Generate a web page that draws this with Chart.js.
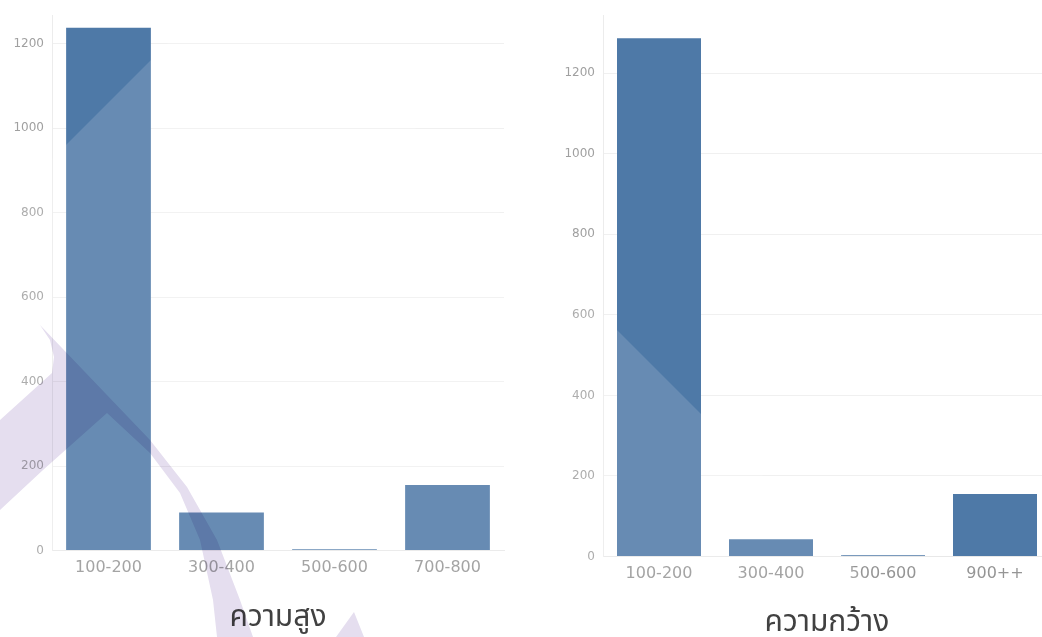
<!DOCTYPE html>
<html lang="th">
<head>
<meta charset="utf-8">
<title>ความสูง / ความกว้าง</title>
<script src="https://cdn.jsdelivr.net/npm/chart.js@4.4.1/dist/chart.umd.min.js"></script>
<style>
  html, body { margin: 0; padding: 0; background: #fff; overflow: hidden; }
  #wrap { position: relative; width: 1042px; height: 637px; overflow: hidden; }
  .panel { position: absolute; top: 0; }
  #heightPanel { left: 0; }
  #widthPanel { left: 520px; }
  #mark { position: absolute; left: 0; top: 0; pointer-events: none; }
</style>
</head>
<body>
<div id="wrap">
  <div class="panel" id="heightPanel"><canvas id="heightChart" width="520" height="641"></canvas></div>
  <div class="panel" id="widthPanel"><canvas id="widthChart" width="540" height="649"></canvas></div>
  <!-- faint logo watermark laid over both charts -->
  <svg id="mark" width="1042" height="637" viewBox="0 0 1042 637">
    <polygon points="249,-38 0,211 0,637 924,637" fill="#fff" fill-opacity="0.14"/>
    <g style="mix-blend-mode: multiply" fill="rgb(229,222,239)">
      <polygon points="40,325 150,440 187,487 217,540 240,600 253,637 217,637 213,600 200,540 180,493 150,453 107,413 43,470 0,510 0,420 52,373 54,357 50,340"/>
      <polygon points="336,637 354,612 364,637"/>
    </g>
  </svg>
</div>
<script>
// Counts per size bucket
const heightLabels = ['100-200', '300-400', '500-600', '700-800'];
const heightCounts = [1238, 90, 3, 155];
const widthLabels = ['100-200', '300-400', '500-600', '900++'];
const widthCounts = [1287, 43, 3, 155];
const yTickValues = [0, 200, 400, 600, 800, 1000, 1200];

const heightTitle = 'ความสูง';
const widthTitle = 'ความกว้าง';

const barColor = '#4e79a7';
const tickFont = "'DejaVu Sans', 'Open Sans', sans-serif";
const titleFont = "'Noto Sans Thai', 'Loma', 'Garuda', 'Noto Sans', sans-serif";

// One Tableau-style bar panel
const makeChart = (id, labels, values, cfg) => {
  const ctx = document.getElementById(id)?.getContext('2d');
  if (!ctx) {
    console.warn('Chart canvas not found:', id);
    return;
  }

  try {
    new Chart(ctx, {
      type: 'bar',
      data: {
        labels: labels,
        datasets: [{
          data: values,
          backgroundColor: barColor,
          borderWidth: 0,
          categoryPercentage: 1,
          barPercentage: 0.75
        }]
      },
      options: {
        responsive: false,
        animation: false,
        devicePixelRatio: 1,
        layout: { padding: { top: cfg.top, right: cfg.right, left: 0, bottom: 0 } },
        plugins: {
          legend: { display: false },
          tooltip: { enabled: false },
          title: {
            display: true,
            text: cfg.title,
            position: 'bottom',
            fullSize: false,
            color: '#222',
            font: { family: titleFont, size: 30, weight: 'normal', lineHeight: 1.2 },
            padding: { top: cfg.titleTop, bottom: cfg.titleBottom }
          }
        },
        scales: {
          x: {
            grid: { display: false, drawTicks: false },
            border: { display: true, color: '#e8e8e8' },
            ticks: { color: '#959595', padding: 8, font: { family: tickFont, size: 16 } },
            afterFit: scale => { scale.height = 32.5; }
          },
          y: {
            min: 0,
            max: cfg.max,
            afterBuildTicks: scale => {
              scale.ticks = yTickValues.map(v => ({ value: v }));
            },
            grid: { color: '#f0f0f0', drawTicks: false },
            border: { display: true, color: '#ececec' },
            ticks: {
              color: '#a0a0a0',
              padding: 8,
              font: { family: tickFont, size: 12 },
              callback: value => String(value)
            },
            afterFit: scale => { scale.width = cfg.axisWidth; }
          }
        }
      }
    });
  } catch (error) {
    console.error('Error initializing chart:', error);
  }
};

makeChart('heightChart', heightLabels, heightCounts, {
  title: heightTitle, max: 1268, top: 11, right: 16, axisWidth: 52, titleTop: 19, titleBottom: 3
});
makeChart('widthChart', widthLabels, widthCounts, {
  title: widthTitle, max: 1344, top: 12, right: 9, axisWidth: 83, titleTop: 18, titleBottom: 6
});
</script>
</body>
</html>
